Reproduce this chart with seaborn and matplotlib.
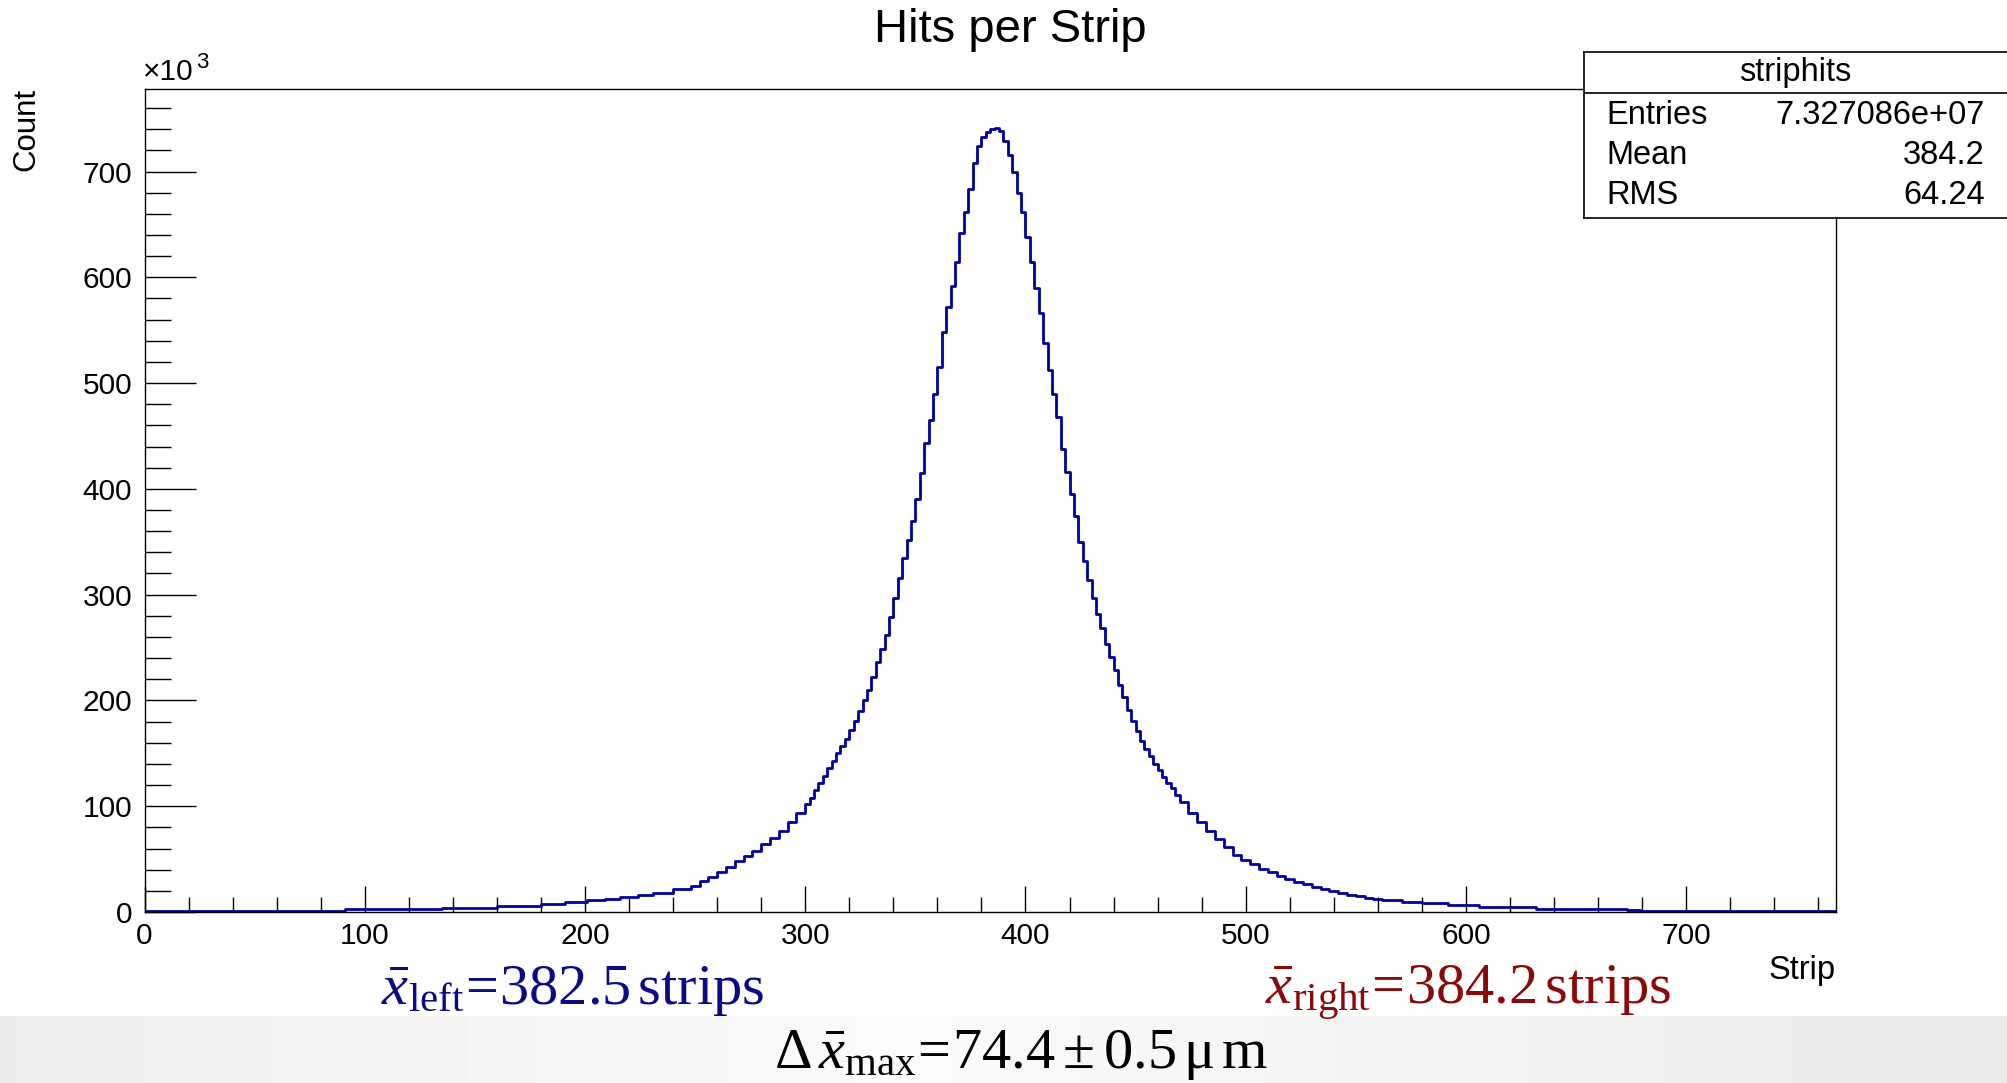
import numpy as np
import matplotlib
matplotlib.use('Agg')
import matplotlib.pyplot as plt
from matplotlib.ticker import MultipleLocator
import seaborn as sns

# Histogram of hits per strip (counts in units of 10^3)
bin_edges = ([0, 91, 135, 160, 180, 191, 201, 209, 216, 224, 231, 240]
             + list(range(248, 300, 4))
             + list(range(300, 470, 2))
             + list(range(470, 562, 4))
             + [562, 571, 580, 592, 606, 632, 673, 679, 768])

counts_k = (
    # left tail, wide bins
    [1.0, 3.0, 4.0, 6.0, 7.5, 9.7, 11.4, 12.4, 14.0, 16.0, 18.2, 21.4]
    # 248 - 300
    + [25, 29, 33, 38, 43, 48, 53, 58, 64, 70, 77, 85, 94]
    # 300 - 350
    + [102, 108, 115, 122, 129, 136, 143, 150, 157, 164, 172, 181, 190,
       200, 210, 222, 236, 249, 262, 279, 297, 316, 335, 352, 370]
    # 350 - 400 (peak)
    + [390, 415, 443, 465, 490, 515, 548, 572, 592, 614, 642, 662, 683,
       708, 724, 733, 737, 740, 741, 738, 729, 716, 700, 680, 662]
    # 400 - 470
    + [638, 614, 590, 566, 538, 512, 490, 468, 438, 416, 395, 374, 350,
       332, 314, 297, 282, 268, 253, 241, 229, 215, 203, 191, 181, 171,
       162, 154, 147, 140, 134, 128, 122, 117, 111]
    # 470 - 562
    + [104, 94, 85, 77, 69, 61, 54, 49, 45, 41, 38, 34, 31, 28, 26,
       23.5, 21.5, 19.5, 18, 16.5, 15, 13.5, 12.2]
    # right tail, wide bins
    + [11, 9.7, 8.2, 6.6, 5.0, 3.2, 1.9, 1.0]
)

stats_labels = ['Entries', 'Mean', 'RMS']
stats_values = ['7.327086e+07', '384.2', '64.24']

edges = np.array(bin_edges, dtype=float)
centers = (edges[:-1] + edges[1:]) / 2

sns.set_theme(style='white')
plt.rcParams['font.family'] = ['Liberation Sans', 'DejaVu Sans']
plt.rcParams['mathtext.fontset'] = 'custom'
plt.rcParams['mathtext.rm'] = 'Liberation Serif'
plt.rcParams['mathtext.it'] = 'Liberation Serif:italic'
plt.rcParams['mathtext.bf'] = 'Liberation Serif:bold'

W, H = 2007, 1083
fig = plt.figure(figsize=(W / 100, H / 100), dpi=100, facecolor='white')

# grey slide band at the bottom
band = fig.add_axes([0, 0, 1, 67 / H])
band.set_zorder(-1)
gx = np.linspace(-1, 1, 600)
shade = 0.983 - 0.06 * np.abs(gx + 0.1)
band.imshow(shade[np.newaxis, :], aspect='auto', cmap='gray', vmin=0, vmax=1,
            extent=[0, 1, 0, 1])
band.axis('off')

# main histogram
ax = fig.add_axes([144.5 / W, 1 - 912 / H, (1836 - 144.5) / W, (912 - 89) / H])
sns.histplot(x=centers, weights=counts_k, bins=bin_edges, element='step',
             fill=False, color='#0000a0', linewidth=2.0, ax=ax)
ax.set_xlim(0, 768)
ax.set_ylim(0, 778)
ax.set_xlabel('')
ax.set_ylabel('')
ax.xaxis.set_major_locator(MultipleLocator(100))
ax.xaxis.set_minor_locator(MultipleLocator(20))
ax.yaxis.set_major_locator(MultipleLocator(100))
ax.yaxis.set_minor_locator(MultipleLocator(20))
ax.tick_params(axis='x', which='major', direction='in', length=18.7, width=1.0,
               labelsize=21.5, pad=7, color='black', labelcolor='black')
ax.tick_params(axis='x', which='minor', direction='in', length=10.5, width=1.0,
               color='black')
ax.tick_params(axis='y', which='major', direction='in', length=36.5, width=1.0,
               labelsize=21.5, pad=9, color='black', labelcolor='black')
ax.tick_params(axis='y', which='minor', direction='in', length=18.7, width=1.0,
               color='black')
ax.tick_params(bottom=True, left=True, top=False, right=False)
ax.tick_params(which='minor', bottom=True, left=True, top=False, right=False)
for sp in ax.spines.values():
    sp.set_color('black')
    sp.set_linewidth(1.0)

fig.text(1010 / W, 1 - 30 / H, 'Hits per Strip', ha='center', va='center',
         fontsize=34, color='black')
fig.text(26 / W, 1 - 88 / H, 'Count', rotation=90, ha='center', va='top',
         fontsize=22.5, color='black')
fig.text(1836 / W, 1 - 970 / H, 'Strip', ha='right', va='center',
         fontsize=23.5, color='black')
fig.text(143 / W, 1 - 86 / H, '\u00d710', ha='left', va='bottom',
         fontsize=21.5, color='black')
fig.text(196 / W, 1 - 73 / H, '3', ha='left', va='bottom',
         fontsize=16, color='black')

# statistics box
bx = fig.add_axes([1584 / W, 1 - 218 / H, (2015 - 1584) / W, (218 - 52) / H])
bx.set_zorder(5)
bx.set_facecolor('white')
bx.set_xticks([])
bx.set_yticks([])
bx.set_xlim(0, 1)
bx.set_ylim(0, 1)
for sp in bx.spines.values():
    sp.set_color('black')
    sp.set_linewidth(1.2)
bx.axhline((218 - 93) / (218 - 52), color='black', linewidth=1.2)
fig.text(1795 / W, 1 - 73 / H, 'striphits', ha='center', va='center',
         fontsize=23.5, color='black', zorder=10)
row_y = [115, 156, 195]
for lab, val, yy in zip(stats_labels, stats_values, row_y):
    fig.text(1606 / W, 1 - yy / H, lab, ha='left', va='center', fontsize=23.5,
             color='black', zorder=10)
    fig.text(1985 / W, 1 - yy / H, val, ha='right', va='center', fontsize=23.5,
             color='black', zorder=10)

# annotations below the plot
fig.text(381 / W, 1 - 1004 / H,
         r'$\bar{x}_{\mathrm{left}}\!=\!\mathrm{382.5\,strips}$',
         ha='left', va='baseline', fontsize=42, color='#0b0b8a')
fig.text(1265 / W, 1 - 1004 / H,
         r'$\bar{x}_{\mathrm{right}}\!=\!\mathrm{384.2\,strips}$',
         ha='left', va='baseline', fontsize=42, color='#8a0a0a')
fig.text(774 / W, 1 - 1068 / H,
         r'$\Delta\,\bar{x}_{\mathrm{max}}\!=\!\mathrm{74.4}\pm\mathrm{0.5\,\mu\,m}$',
         ha='left', va='baseline', fontsize=42, color='black')

fig.savefig('out.png', dpi=100, facecolor='white')
